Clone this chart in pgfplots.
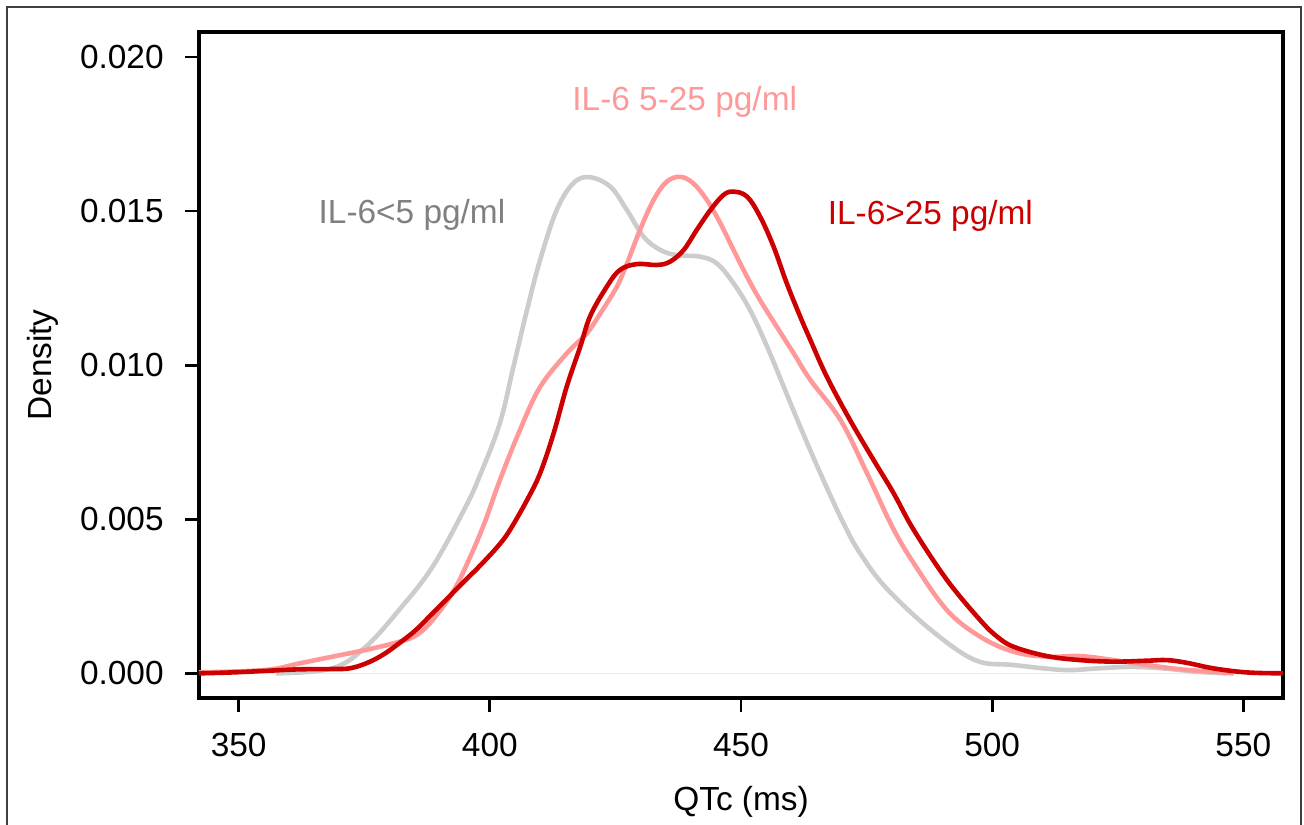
\documentclass[border=0pt]{standalone}
\usepackage{fontspec}
\setmainfont{Liberation Sans}
\usepackage{pgfplots}
\pgfplotsset{compat=1.18}

\definecolor{lowgray}{RGB}{204,204,204}
\definecolor{midpink}{RGB}{255,153,153}
\definecolor{highred}{RGB}{204,0,0}
\definecolor{lowtext}{RGB}{128,128,128}
\newcommand{\chartfont}{\fontsize{16.7bp}{20bp}\selectfont}

\begin{document}
\begin{tikzpicture}
\useasboundingbox (-99.5bp,-63.5bp) rectangle (552.5bp,349bp);
% outer frame (bottom edge lies below the page)
\draw[line width=1bp, black!75] (-96bp,-90bp) rectangle (551bp,345.5bp);
\begin{axis}[
  name=ax,
  at={(0,0)}, anchor=south west,
  scale only axis, width=542bp, height=333bp,
  xmin=342.1, xmax=557.9,
  ymin=-0.0008, ymax=0.02081,
  axis line style={line width=2bp, black},
  tick align=outside, tick pos=left,
  major tick length=7bp,
  tick style={line width=1.4bp, black},
  xtick={350,400,450,500,550},
  ytick={0,0.005,0.01,0.015,0.02},
  scaled y ticks=false,
  /pgf/number format/assume math mode=true,
  xticklabel style={font=\chartfont, inner sep=0pt, anchor=north, yshift=-10.5bp},
  yticklabel style={font=\chartfont, inner sep=0pt, anchor=east, xshift=-10.5bp,
    /pgf/number format/.cd, fixed, fixed zerofill, precision=3},
  every axis plot/.append style={line width=2.3bp, smooth, tension=0.6},
]
% zero line
\addplot[line width=0.5bp, black!8, sharp plot] coordinates {(342.1,0) (557.9,0)};

% IL-6 < 5 pg/ml
\addplot[lowgray] coordinates {
(357.4,0) (368.6,0.00016) (375.3,0.00086) (381.9,0.00205) (388.6,0.00346)
(395.2,0.00541) (398.1,0.00645) (402.0,0.00812) (404.7,0.00995) (407.4,0.01179)
(410.0,0.01341) (413.3,0.01503) (416.6,0.01590) (419.8,0.01610) (424.0,0.01579)
(427.3,0.01503) (430.6,0.01417) (433.9,0.01374) (437.2,0.01357) (441.9,0.01352)
(445.2,0.01330) (448.5,0.01266) (451.8,0.01179) (455.2,0.01060) (458.5,0.00930)
(461.8,0.00800) (465.8,0.00649) (470.4,0.00487) (473.7,0.00390) (478.9,0.00277)
(487.8,0.00141) (496.6,0.00043) (504.3,0.00027) (514.2,0.00011) (520.9,0.00016)
(527.5,0.00021) (534.1,0.00016) (540.8,0.00005) (546.8,0)
};

% IL-6 5-25 pg/ml
\addplot[midpink] coordinates {
(342.1,0.00003) (355.4,0.00011) (362.0,0.00032) (368.6,0.00054) (375.3,0.00076)
(381.9,0.00102) (385.5,0.00125) (388.6,0.00173) (392.5,0.00260) (395.2,0.00346)
(398.7,0.00478) (402.0,0.00627) (406.0,0.00790) (410.0,0.00929) (415.3,0.01038)
(419.3,0.01103) (422.0,0.01168) (425.3,0.01255) (427.3,0.01330) (429.9,0.01439)
(432.6,0.01536) (435.2,0.01595) (437.9,0.01611) (440.5,0.01590) (443.2,0.01536)
(445.9,0.01460) (448.5,0.01374) (451.2,0.01287) (453.8,0.01211) (457.1,0.01125)
(460.5,0.01038) (463.8,0.00952) (469.8,0.00822) (475.1,0.00649) (480.1,0.00476)
(484.4,0.00357) (491.0,0.00205) (497.6,0.00119) (504.3,0.00070) (510.9,0.00054)
(517.5,0.00056) (524.2,0.00043) (530.8,0.00027) (537.5,0.00013) (544.1,0.00005)
(548.1,0)
};

% IL-6 > 25 pg/ml
\addplot[highred] coordinates {
(342.1,0) (348.7,0.00003) (355.4,0.00008) (362.0,0.00013) (368.6,0.00014)
(372.0,0.00016) (375.3,0.00032) (378.6,0.00059) (381.9,0.00097) (385.3,0.00141)
(388.6,0.00195) (391.9,0.00249) (395.2,0.00303) (398.5,0.00357) (401.8,0.00416)
(404.0,0.00465) (407.4,0.00562) (410.0,0.00649) (412.7,0.00779) (415.3,0.00930)
(418.0,0.01060) (420.0,0.01160) (423.3,0.01255) (425.9,0.01309) (429.3,0.01328)
(433.3,0.01325) (435.9,0.01336) (438.6,0.01374) (441.2,0.01439) (443.9,0.01503)
(446.5,0.01552) (448.5,0.01563) (451.2,0.01547) (453.8,0.01482) (456.5,0.01384)
(459.1,0.01266) (461.8,0.01157) (463.8,0.01082) (467.1,0.00962) (471.7,0.00822)
(476.4,0.00692) (480.4,0.00584) (484.4,0.00465) (491.0,0.00303) (497.6,0.00173)
(501.0,0.00119) (504.3,0.00086) (510.9,0.00056) (517.5,0.00043) (524.2,0.00038)
(530.8,0.00041) (534.8,0.00043) (538.8,0.00034) (544.1,0.00016) (550.7,0.00003)
(557.9,0) (560,0)
};

\node[anchor=base, text=lowtext, font=\chartfont, inner sep=0pt] at (axis cs:384.5,0.01461) {IL-6<5 pg/ml};
\node[anchor=base, text=midpink, font=\chartfont, inner sep=0pt] at (axis cs:438.8,0.01825) {IL-6 5-25 pg/ml};
\node[anchor=base, text=highred, font=\chartfont, inner sep=0pt] at (axis cs:487.7,0.01455) {IL-6>25 pg/ml};
\end{axis}
\node[anchor=base, font=\chartfont, inner sep=0pt] at ([yshift=-56bp]ax.south) {QTc (ms)};
\node[anchor=base, rotate=90, font=\chartfont, inner sep=0pt] at ([xshift=-73.5bp]ax.west) {Density};
\end{tikzpicture}
\end{document}
